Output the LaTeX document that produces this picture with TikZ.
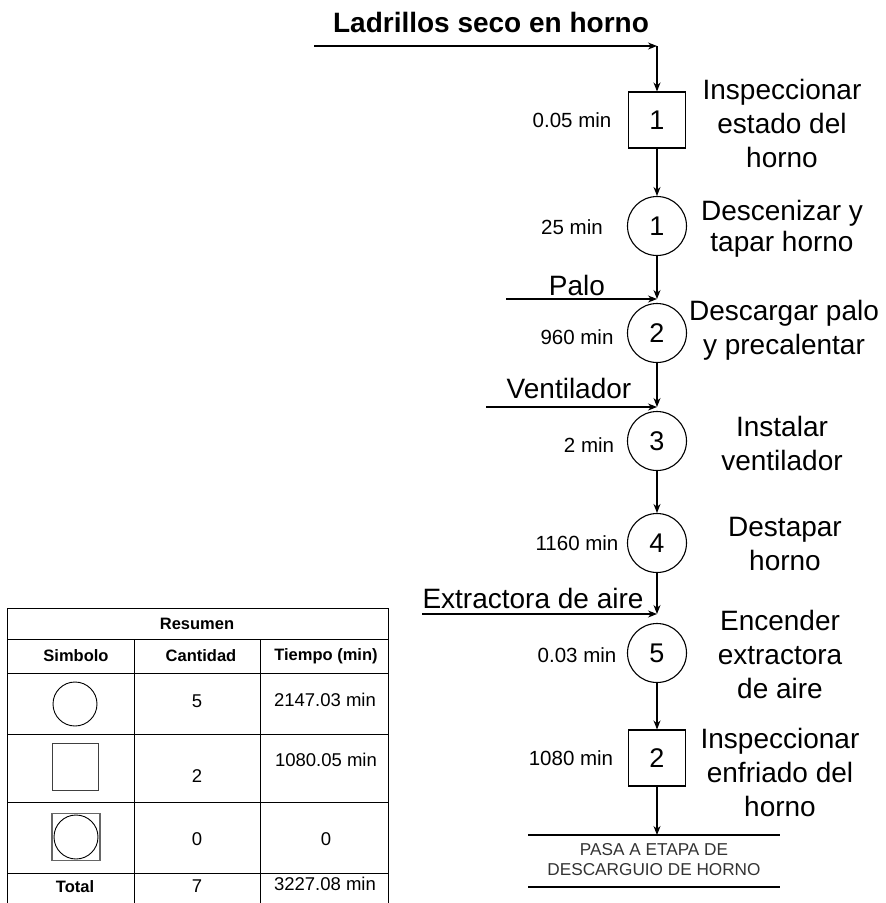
\documentclass[tikz,border=0pt]{standalone}
\usepackage{fontspec}
\setmainfont{Liberation Sans}
\usetikzlibrary{arrows.meta}
\begin{document}
\begin{tikzpicture}[x=1pt,y=-1pt,
  line/.style={line width=1.1pt},
  arr/.style={line width=1.1pt,-{Stealth[length=9pt,width=7pt]}},
  opc/.style={circle,draw,line width=1.1pt,minimum size=59pt,inner sep=0pt,font=\fontsize{27}{30}\selectfont},
  insp/.style={rectangle,draw,line width=1.1pt,minimum width=57pt,minimum height=56pt,inner sep=0pt,font=\fontsize{27}{30}\selectfont},
  desc/.style={align=center,font=\fontsize{28}{34}\selectfont},
  tlab/.style={font=\fontsize{20.5}{23}\selectfont},
  inlab/.style={font=\fontsize{28}{32}\selectfont},
  tab/.style={line width=0.8pt},
  thead/.style={font=\bfseries\fontsize{16.5}{20}\selectfont},
  tval/.style={font=\fontsize{18.5}{22}\selectfont}]
\useasboundingbox (0,0) rectangle (886,903);

% title and entry
\node[font=\bfseries\fontsize{28}{32}\selectfont] (title) at (491,22) {Ladrillos seco en horno};
\coordinate (in0) at (314,46);
\coordinate (k0) at (657,46);

% process nodes
\node[insp] (b1) at (657,120) {1};
\node[opc] (c1) at (657,226) {1};
\node[opc] (c2) at (657,333) {2};
\node[opc] (c3) at (657,441) {3};
\node[opc] (c4) at (657,543) {4};
\node[opc] (c5) at (657,653) {5};
\node[insp] (b2) at (657,758) {2};

% side inputs
\coordinate (p2) at (506,299);
\coordinate (p3) at (486,407);
\coordinate (p5) at (422,614);
\node[inlab] (lp2) at (577,285) {Palo};
\node[inlab] (lp3) at (569,388) {Ventilador};
\node[inlab] (lp5) at (533,598) {Extractora de aire};

% end
\coordinate (e1) at (528,835);
\coordinate (e2) at (780,835);
\coordinate (e3) at (528,887);
\coordinate (e4) at (780,887);
\coordinate (ein) at (657,835);
\node[align=center,text=black!80,font=\fontsize{17.2}{20}\selectfont] (endt) at (654,860) {PASA A ETAPA DE\\DESCARGUIO DE HORNO};

% connectors
\draw[arr] (in0) -- (k0);
\draw[arr] (k0) -- (b1.north);
\draw[arr] (b1) -- (c1);
\draw[arr] (c1) -- (p2 -| c2);
\draw[arr] (p2) -- (p2 -| c2);
\draw[arr] (c2) -- (p3 -| c3);
\draw[arr] (p3) -- (p3 -| c3);
\draw[arr] (c3) -- (c4);
\draw[arr] (c4) -- (p5 -| c5);
\draw[arr] (p5) -- (p5 -| c5);
\draw[arr] (c5) -- (b2);
\draw[arr] (b2) -- (ein);
\draw[line] (e1) -- (e2);
\draw[line] (e3) -- (e4);

% time labels
\node[tlab] (t1) at (572,120) {0.05 min};
\node[tlab] (t2) at (572,227) {25 min};
\node[tlab] (t3) at (577,337) {960 min};
\node[tlab] (t4) at (589,445) {2 min};
\node[tlab] (t5) at (577,543) {1160 min};
\node[tlab] (t6) at (577,655) {0.03 min};
\node[tlab] (t7) at (571,758) {1080 min};

% descriptions
\node[desc] (d1) at (782,123) {Inspeccionar\\estado del\\horno};
\node[desc,font=\fontsize{28}{31}\selectfont] (d2) at (782,229) {Descenizar y\\tapar horno};
\node[desc] (d3) at (784,330) {Descargar palo\\y precalentar};
\node[desc] (d4) at (782,443) {Instalar\\ventilador};
\node[desc] (d5) at (785,544) {Destapar\\horno};
\node[desc] (d6) at (780,654) {Encender\\extractora\\de aire};
\node[desc] (d7) at (780,772) {Inspeccionar\\enfriado del\\horno};

% summary table
\draw[tab] (7,903) -- (7,608) -- (388,608) -- (388,903);
\draw[tab] (7,639) -- (388,639);
\draw[tab] (7,673) -- (388,673);
\draw[tab] (7,734) -- (388,734);
\draw[tab] (7,802) -- (388,802);
\draw[tab] (7,873) -- (388,873);
\draw[tab] (134,639) -- (134,903);
\draw[tab] (260,639) -- (260,903);

\node[thead] (r0) at (197,624) {Resumen};
\node[thead] (h1) at (76,656) {Simbolo};
\node[thead] (h2) at (201,656) {Cantidad};
\node[thead] (h3) at (326,656) {Tiempo (min)};

\node[circle,draw,line width=0.9pt,minimum size=44pt,inner sep=0pt] (s1) at (75,704) {};
\node[tval] (q1) at (197,701) {5};
\node[tval] (m1) at (325,700) {2147.03 min};

\node[rectangle,draw,line width=1pt,draw=black!75,minimum width=46pt,minimum height=47pt,inner sep=0pt] (s2) at (75,767) {};
\node[tval] (q2) at (197,776) {2};
\node[tval] (m2) at (326,760) {1080.05 min};

\node[rectangle,draw=black!60,line width=1.6pt,minimum width=48pt,minimum height=47pt,inner sep=0pt] (s3) at (76,837) {};
\node[circle,draw,line width=0.9pt,minimum size=44pt,inner sep=0pt] (s3c) at (76,837) {};
\node[tval] (q3) at (197,839) {0};
\node[tval] (m3) at (326,839) {0};

\node[thead] (tt) at (75,887) {Total};
\node[tval] (q4) at (197,886) {7};
\node[tval] (m4) at (325,884) {3227.08 min};
\end{tikzpicture}
\end{document}
